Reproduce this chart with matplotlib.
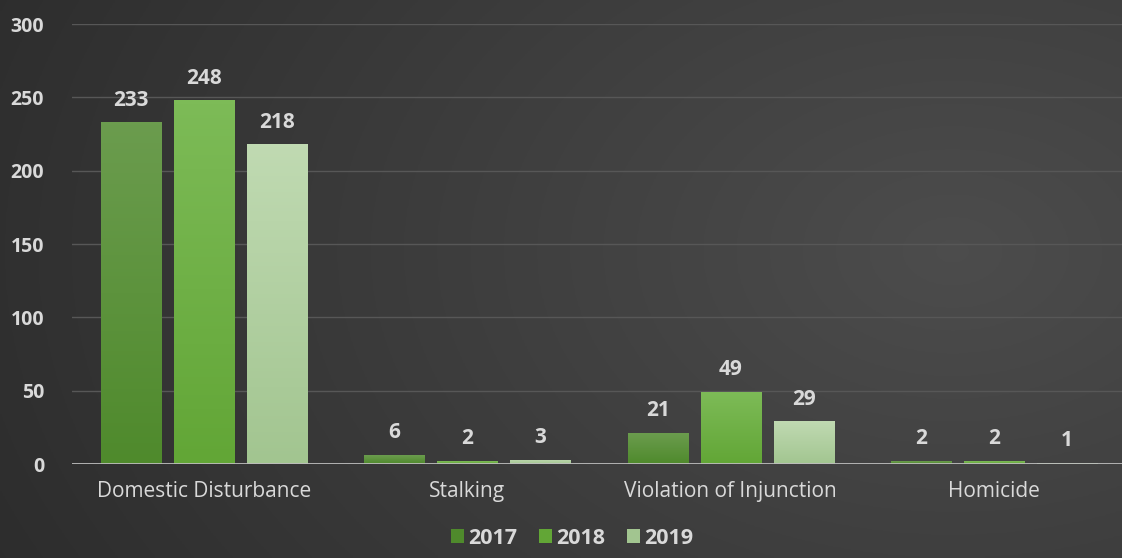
import numpy as np
import matplotlib.pyplot as plt
from matplotlib.colors import to_rgb

categories = ['Domestic Disturbance', 'Stalking', 'Violation of Injunction', 'Homicide']
years = ['2017', '2018', '2019']
values_2017 = [233, 6, 21, 2]
values_2018 = [248, 2, 49, 2]
values_2019 = [218, 3, 29, 1]

series = [values_2017, values_2018, values_2019]
top_colors = ['#6b9c4e', '#7dbb57', '#c0dab2']
bottom_colors = ['#4f8a2c', '#62a636', '#a2c590']
text_color = '#d9d9d9'

plt.rcParams['font.family'] = ['Open Sans', 'DejaVu Sans']

fig = plt.figure(figsize=(11.22, 5.58), dpi=100)

# Dark radial background, lighter towards the right
bg = fig.add_axes([0, 0, 1, 1])
yy, xx = np.mgrid[0:1:200j, 0:1:400j]
r = np.sqrt(((xx - 0.85) * 1.1) ** 2 + ((yy - 0.45) * 0.8) ** 2)
shade = np.clip(0.30 - 0.12 * r, 0.15, 0.30)
bg.imshow(np.dstack([shade, shade, shade]), aspect='auto', extent=[0, 1, 0, 1])
bg.axis('off')

ax = fig.add_axes([72 / 1122, 94 / 558, 1054 / 1122, 440 / 558])
ax.patch.set_alpha(0)

x = np.arange(len(categories))
step = 0.277
width = 0.228
for i, (vals, yr) in enumerate(zip(series, years)):
    pos = x + (i - 1) * step
    c_top = np.array(to_rgb(top_colors[i]))
    c_bot = np.array(to_rgb(bottom_colors[i]))
    bars = ax.bar(pos, vals, width, color=bottom_colors[i], label=yr, zorder=3)
    # vertical gradient fill clipped to each bar
    t = np.linspace(1, 0, 100)[:, None, None]
    grad = c_bot + (c_top - c_bot) * t
    for b in bars:
        im = ax.imshow(grad, aspect='auto', zorder=3.5,
                       extent=[b.get_x(), b.get_x() + b.get_width(), 0, b.get_height()])
        im.set_clip_path(b)
    for p, v in zip(pos, vals):
        ax.text(p, v + 8, str(v), ha='center', va='bottom', color=text_color,
                fontsize=15, fontweight='bold')

ax.set_xlim(-0.5, 3.5)
ax.set_ylim(0, 300)
ax.set_yticks(range(0, 301, 50))
ax.grid(axis='y', color='#575757', linewidth=1, zorder=0)
ax.axhline(0, color='#bdbdbd', linewidth=2, zorder=4)
for s in ax.spines.values():
    s.set_visible(False)
ax.tick_params(length=0, colors=text_color)
ax.tick_params(axis='y', pad=20, labelsize=14)
ax.tick_params(axis='x', pad=12, labelsize=15)
for lbl in ax.get_yticklabels():
    lbl.set_fontweight('bold')
ax.set_xticks(x)
ax.set_xticklabels(categories)

leg = fig.legend(loc='lower center', bbox_to_anchor=(0.51, -0.018), ncol=3, frameon=False,
                 fontsize=15.5, handlelength=0.6, handleheight=0.6, handletextpad=0.2,
                 columnspacing=1.0)
for lbl in leg.get_texts():
    lbl.set_color(text_color)
    lbl.set_fontweight('bold')

fig.savefig('out.png', dpi=100)
